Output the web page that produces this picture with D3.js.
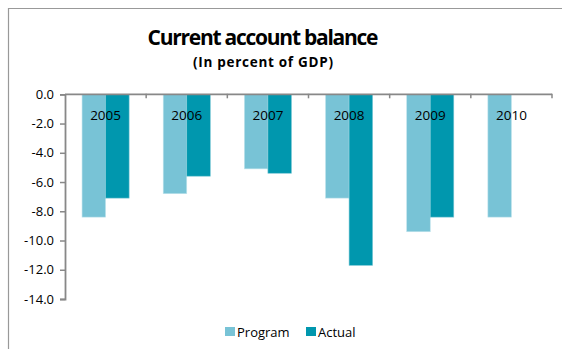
<!DOCTYPE html>
<html>
<head>
<meta charset="utf-8">
<script src="https://cdn.jsdelivr.net/npm/d3@7"></script>
<style>
  html, body { margin: 0; padding: 0; background: #fff; }
  svg { display: block; font-family: "Open Sans", "Liberation Sans", sans-serif; }
</style>
</head>
<body>
<svg id="chart" width="562" height="349"></svg>
<script>
// Current account balance, percent of GDP
const years = ["2005", "2006", "2007", "2008", "2009", "2010"];
const seriesNames = ["Program", "Actual"];
const programValues = [-8.4, -6.8, -5.1, -7.1, -9.4, -8.4];
const actualValues = [-7.1, -5.6, -5.4, -11.7, -8.4, null];
const yTicks = [0, -2, -4, -6, -8, -10, -12, -14];
const colors = ["#78C3D6", "#0097AE"];

const svg = d3.select("#chart");
const W = 562, H = 349;

// outer chart frame (top and left edges visible)
svg.append("path")
  .attr("d", `M8.5,${H} L8.5,8.5 L${W},8.5`)
  .attr("fill", "none")
  .attr("stroke", "#999")
  .attr("stroke-width", 1.2);

// titles
svg.append("text")
  .attr("x", 263).attr("y", 45)
  .attr("text-anchor", "middle")
  .attr("font-size", 21).attr("font-weight", "bold")
  .attr("fill", "#000")
  .attr("textLength", 231)
  .text("Current account  balance");
svg.append("text")
  .attr("x", 263).attr("y", 67)
  .attr("text-anchor", "middle")
  .attr("font-size", 13.5).attr("font-weight", "bold")
  .attr("fill", "#000")
  .attr("textLength", 140)
  .text("(In percent of GDP)");

const plot = { left: 65, right: 552, top: 94.3, bottom: 299 };

const y = d3.scaleLinear().domain([0, -14]).range([plot.top, plot.bottom]);
const x0 = d3.scaleBand().domain(years).range([plot.left, plot.right]).paddingInner(0.42).paddingOuter(0.21);
const x1 = d3.scaleBand().domain(seriesNames).range([0, x0.bandwidth()]);

const rows = years.map((yr, i) => ({ year: yr, values: [programValues[i], actualValues[i]] }));

// bars
const groups = svg.append("g").selectAll("g")
  .data(rows).join("g")
  .attr("transform", d => `translate(${x0(d.year)},0)`);
groups.selectAll("rect")
  .data(d => d.values.map((v, j) => ({ name: seriesNames[j], v, j })).filter(e => e.v !== null))
  .join("rect")
  .attr("x", d => x1(d.name))
  .attr("y", y(0))
  .attr("width", x1.bandwidth())
  .attr("height", d => y(d.v) - y(0))
  .attr("fill", d => colors[d.j])
  .attr("stroke", d => d.j === 0 ? "#bfe3ec" : "#7cc8d6")
  .attr("stroke-width", 0.6);

// y axis
const yAxis = d3.axisLeft(y).tickValues(yTicks).tickFormat(d3.format(".1f")).tickSize(5).tickPadding(6);
const gy = svg.append("g").attr("transform", `translate(${plot.left},0)`).call(yAxis);
gy.select(".domain").attr("stroke", "#888").attr("stroke-width", 1.8);
gy.selectAll(".tick line").attr("stroke", "#888").attr("stroke-width", 1.5);
gy.selectAll(".tick text").attr("font-size", 13).attr("fill", "#000")
  .attr("font-family", "'Open Sans', sans-serif")
  .text(d => d === 0 ? "0.0" : d3.format(".1f")(d).replace("−", "-"));

// x axis line at zero, with category boundary ticks pointing up
const bounds = d3.range(years.length + 1).map(i => plot.left + i * (plot.right - plot.left) / years.length);
const gx = svg.append("g");
gx.append("line")
  .attr("x1", plot.left).attr("x2", plot.right)
  .attr("y1", y(0)).attr("y2", y(0))
  .attr("stroke", "#888").attr("stroke-width", 1.8);
gx.selectAll("line.tk").data(bounds.slice(1)).join("line")
  .attr("class", "tk")
  .attr("x1", d => d).attr("x2", d => d)
  .attr("y1", y(0) - 0.5).attr("y2", y(0) + 4)
  .attr("stroke", "#888").attr("stroke-width", 1.5);

// category labels inside the plot, under the zero line
svg.append("g").selectAll("text")
  .data(years).join("text")
  .attr("x", d => x0(d) + x0.bandwidth() / 2)
  .attr("y", 120)
  .attr("text-anchor", "middle")
  .attr("font-size", 13.5)
  .attr("fill", "#000")
  .text(d => d);

// legend
const legendItems = [
  { name: "Program", color: colors[0], x: 225 },
  { name: "Actual", color: colors[1], x: 306 }
];
const lg = svg.append("g").selectAll("g").data(legendItems).join("g")
  .attr("transform", d => `translate(${d.x},327)`);
lg.append("rect").attr("width", 10).attr("height", 9).attr("fill", d => d.color);
lg.append("text").attr("x", 12).attr("y", 9.5)
  .attr("font-size", 13).attr("fill", "#000")
  .text(d => d.name);
</script>
</body>
</html>
